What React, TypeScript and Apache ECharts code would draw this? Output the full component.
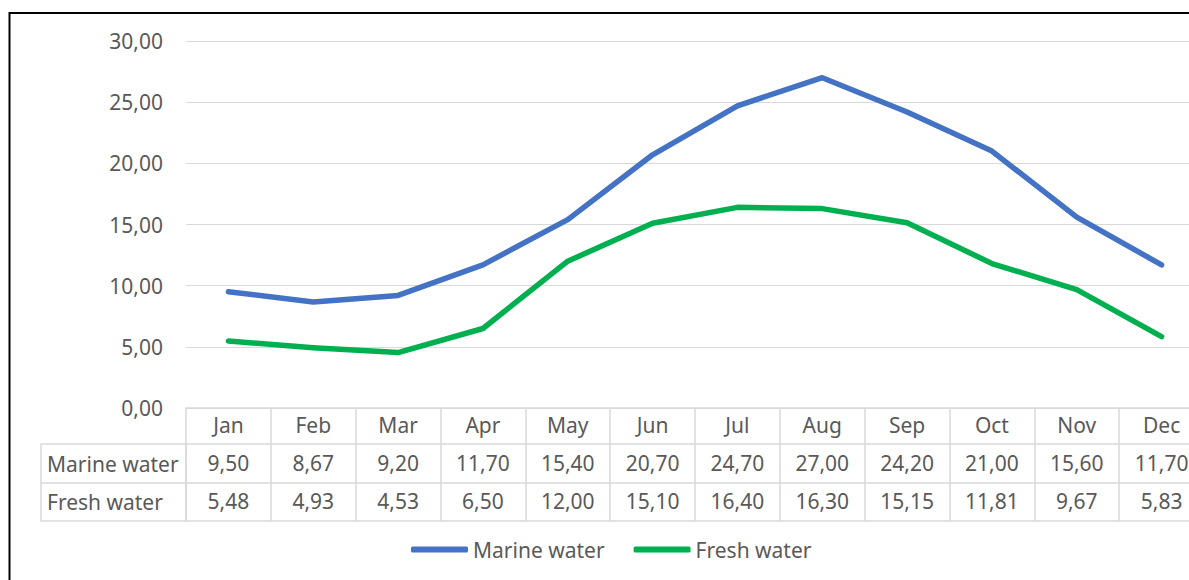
import React, { useEffect, useRef } from "react";
import * as echarts from "echarts";

const months = ["Jan", "Feb", "Mar", "Apr", "May", "Jun", "Jul", "Aug", "Sep", "Oct", "Nov", "Dec"];
const marineWater = [9.5, 8.67, 9.2, 11.7, 15.4, 20.7, 24.7, 27.0, 24.2, 21.0, 15.6, 11.7];
const freshWater = [5.48, 4.93, 4.53, 6.5, 12.0, 15.1, 16.4, 16.3, 15.15, 11.81, 9.67, 5.83];
const seriesNames = ["Marine water", "Fresh water"];
const yTicks = { min: 0, max: 30, interval: 5 };

const FONT = "'Noto Sans', sans-serif";
const TXT = "#595959";
const LINE = "#d9d9d9";

const fmt = (v: number) => v.toFixed(2).replace(".", ",");

export default function App() {
  const ref = useRef<HTMLDivElement>(null);
  useEffect(() => {
    if (!ref.current) return;
    const chart = echarts.init(ref.current, null, { renderer: "svg" });
    const gridLeft = 186;
    const gridTop = 41;
    const gridBottom = 172;
    const axisY = 580 - gridBottom;
    const rowOff = [36, 75, 113];
    const tableLeft = 41;
    const extraAxis = (off: number) => ({
      type: "category",
      data: months,
      position: "bottom",
      offset: off,
      gridIndex: 0,
      axisLine: { show: true, lineStyle: { color: LINE, width: 1.5 } },
      axisTick: { show: false },
      axisLabel: { show: false },
      splitLine: { show: false },
    });
    chart.setOption({
      animation: false,
      textStyle: { fontFamily: FONT },
      grid: {
        left: gridLeft,
        top: gridTop,
        bottom: gridBottom,
        width: 1018,
        containLabel: false,
        outerBoundsMode: "none",
      },
      legend: {
        left: 406,
        top: 534,
        icon: "roundRect",
        itemWidth: 57,
        itemHeight: 6,
        itemGap: 29,
        textStyle: { color: TXT, fontSize: 21, fontFamily: FONT },
        data: seriesNames,
      },
      xAxis: [
        {
          type: "category",
          data: months,
          position: "bottom",
          boundaryGap: true,
          axisLine: { show: true, lineStyle: { color: LINE, width: 1.5 } },
          axisTick: { show: true, length: 113, interval: 0, lineStyle: { color: LINE, width: 1.5 } },
          axisLabel: {
            interval: 0,
            margin: -2,
            lineHeight: 38,
            fontSize: 21,
            color: TXT,
            fontFamily: FONT,
            formatter: (v: string, i: number) => `${v}\n${fmt(marineWater[i])}\n${fmt(freshWater[i])}`,
          },
          splitLine: { show: false },
        },
        extraAxis(rowOff[0]),
        extraAxis(rowOff[1]),
        extraAxis(rowOff[2]),
      ],
      yAxis: {
        type: "value",
        min: yTicks.min,
        max: yTicks.max,
        interval: yTicks.interval,
        axisLine: { show: false },
        axisTick: { show: false },
        axisLabel: { color: TXT, fontSize: 21, fontFamily: FONT, margin: 23, formatter: (v: number) => fmt(v) },
        splitLine: { lineStyle: { color: LINE, width: 1 } },
      },
      series: [
        {
          name: seriesNames[0],
          type: "line",
          data: marineWater,
          symbol: "none",
          color: "#4472C4",
          lineStyle: { width: 5.5, color: "#4472C4", cap: "round", join: "round" },
        },
        {
          name: seriesNames[1],
          type: "line",
          data: freshWater,
          symbol: "none",
          color: "#00B050",
          lineStyle: { width: 5.5, color: "#00B050", cap: "round", join: "round" },
        },
      ],
      graphic: [
        {
          type: "rect",
          shape: { x: tableLeft, y: axisY + rowOff[0], width: gridLeft - tableLeft, height: rowOff[2] - rowOff[0] },
          style: { fill: "none", stroke: LINE, lineWidth: 1.5 },
        },
        {
          type: "line",
          shape: { x1: tableLeft, y1: axisY + rowOff[1], x2: gridLeft, y2: axisY + rowOff[1] },
          style: { stroke: LINE, lineWidth: 1.5 },
        },
        {
          type: "text",
          x: tableLeft + 6,
          y: axisY + (rowOff[0] + rowOff[1]) / 2,
          style: { text: seriesNames[0], fill: TXT, fontSize: 21, fontFamily: FONT, verticalAlign: "middle" },
        },
        {
          type: "text",
          x: tableLeft + 6,
          y: axisY + (rowOff[1] + rowOff[2]) / 2,
          style: { text: seriesNames[1], fill: TXT, fontSize: 21, fontFamily: FONT, verticalAlign: "middle" },
        },
        {
          type: "line",
          shape: { x1: 9.5, y1: 12, x2: 9.5, y2: 580 },
          style: { stroke: "#000", lineWidth: 2 },
        },
        {
          type: "line",
          shape: { x1: 9, y1: 13, x2: 1189, y2: 13 },
          style: { stroke: "#000", lineWidth: 2 },
        },
      ],
    });
    return () => chart.dispose();
  }, []);
  return (
    <div
      ref={ref}
      style={{ position: "fixed", left: 0, top: 0, width: 1189, height: 580, background: "#fff" }}
    />
  );
}
